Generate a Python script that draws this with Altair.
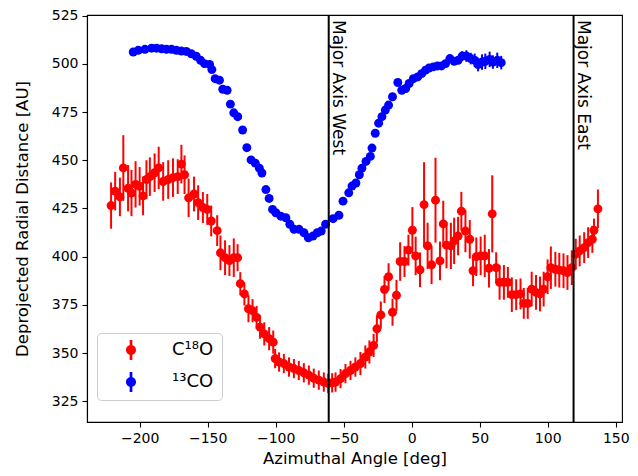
import altair as alt
import pandas as pd

# ---------------- data ----------------
red_x = [-221, -218, -214.5, -212, -208.5, -206, -203, -200, -197.5, -195, -192.5, -189, -186,
         -182.7, -179, -175.5, -172, -169.3, -167, -164, -160, -157, -153.5, -150.3, -147.4,
         -143, -140.6, -137.2, -134, -130.8, -128, -126, -123, -120, -117, -114, -111.5,
         -108.4, -104.8, -101.8, -100.4, -97.5, -94, -90.2, -86.6, -83, -79.3, -75.6, -72,
         -68.3, -64.6, -61.4, -58.5, -56, -52.3, -48.7, -45, -41.4, -37.7, -34.1, -31.1, -28,
         -25.6, -22.7, -20, -17, -14.1, -11.2, -8.5, -5.3, -2.4, 0.5, 2.9, 6.1, 9.1, 11.7,
         14.6, 17.5, 20.8, 23.2, 25.6, 28.8, 31.2, 34.1, 36.5, 39.5, 42.7, 45.1, 47.5, 50.7,
         53.7, 56.8, 59.2, 62.1, 64.6, 67.8, 70.7, 73.6, 76.8, 80, 82.4, 85.3, 88.2, 91.4,
         94.3, 97, 99.9, 102.3, 105.6, 108.5, 111.6, 114.5, 117.7, 120.6, 123.5, 126.8,
         129.7, 132.8, 134, 136.9]
red_y = [426.5, 434, 431, 446, 435.5, 433, 437.5, 436.5, 431.5, 440, 441.5, 443.5, 446,
         439, 440, 441, 441.5, 448, 442.5, 430.5, 432.5, 428, 425.5, 424.5, 418.5,
         413.5, 402, 399.5, 398, 399.5, 399.5, 386, 380.7, 373, 372, 368.5, 363.5,
         360, 357.5, 355.7, 347.2, 345.4, 344.6, 342.8, 342, 341, 339.8, 338.6, 337,
         336, 335, 334.3, 334.6, 335, 336.8, 339.4, 341, 342.8, 344.6, 348, 350.6, 354,
         362.6, 369.8, 383, 389.6, 371.2, 380, 397.5, 397.5, 403.4, 413.7, 400.4, 393.2, 427, 405.6,
         395.8, 429.3, 397.8, 417, 406, 405.6, 408.2, 410.7, 423.6, 413.3, 409, 392.7, 400, 400.4,
         400.4, 394, 422.2, 394.3, 386.7, 386.7, 386.7, 380.3, 380.3, 380.7, 375.8, 375.8, 383.2, 381.5,
         380.7, 383.2, 389.6, 394.3, 393.5, 393, 392.7, 391.8, 394.3, 401.3, 403, 404.7,
         407.3, 409, 413.7, 424.8]
red_err = [12, 10, 10, 17, 12, 12, 12, 10, 10, 10, 10, 10, 11,
           10, 10, 10, 9, 10, 10, 10, 9, 9, 8, 8, 8,
           8, 9, 9, 8, 10, 7, 6, 6, 7, 6, 6, 6,
           6, 6, 6, 5, 5, 5, 5, 5, 5, 5, 5, 5,
           5, 5, 5, 5, 5, 5, 5, 5, 5, 6, 6, 6, 6,
           7, 7, 7, 7, 7, 8, 10, 8, 8, 12, 10, 9, 22, 12,
           10, 22, 10, 12, 12, 12, 12, 10, 10, 11, 10, 8, 10, 10,
           11, 10, 20, 8, 9, 9, 8, 9, 8, 8, 8, 8, 9, 9,
           9, 9, 9, 11, 9, 9, 9, 9, 9, 8, 8, 8,
           8, 7, 6, 10]

blue_x = [-204.7, -201, -196.1, -191.2, -187.6, -183.9, -180.3, -176.6, -173, -169.3, -165.7,
          -162, -158.4, -155.2, -152.3, -148.6, -146.9, -144.5, -141.3, -138.9, -135.7, -133.3,
          -130.8, -127.9, -124.3, -121.2, -118.1, -115, -112, -110.1, -107.2, -104.8, -102.3,
          -99.9, -96.2, -92.5, -89.6, -86.5, -82.8, -79.2, -76, -72.6, -69.4, -66.5, -63.3,
          -57.8, -53.5, -50.5, -46.3, -43.9, -41, -38.5, -36.6, -33.6, -30.4, -29.2, -26.8,
          -24.3, -21.9, -19.4, -17, -14.1, -10.2, -7.3, -4.4, -1.9, 1.2, 4.4, 7.3, 10.2, 12.7,
          15.9, 19, 21.9, 24.9, 28.1, 31.2, 34.1, 37.1, 40.2, 43.4, 46.3, 48.8, 51.7, 54.1,
          57.3, 59.7, 62.9, 65.8]
blue_y = [506.1, 507, 507.5, 508.1, 508.1, 507.8, 507.5, 507.5, 507, 506.6, 506.4,
          505.2, 503.9, 501.8, 500.1, 499.7, 497, 492.3, 491.5, 486.8, 486.3, 479.1,
          474.6, 472.6, 465.7, 456.5, 450.2, 448.5, 445.9, 443.4, 434.8, 430.2, 424.5,
          422.8, 421, 420.2, 416.8, 414.2, 414.2, 412.4, 409.8, 410.7, 412.4, 413.3, 416.8,
          419.7, 421.5, 428.8, 433.1, 436.6, 438.2, 442.5, 445.9, 449.4, 452, 456.3, 464,
          469.2, 472.6, 476, 478.6, 482.9, 490.3, 486.3, 487.2, 489.8, 492.3, 493.2, 494.9, 496.7, 497.8,
          498.4, 498.9, 498.9, 500.1, 502.7, 501.3, 501.8, 504, 504, 502.7, 501.8, 499.6, 500.9, 501.3,
          502.3, 500.9, 501.8, 500.6]
blue_err = [1.5] * 78 + [2.5, 3, 3, 3.5, 3.5, 4, 4, 4, 3.5, 4, 3.5]

series_names = ["C¹⁸O", "¹³CO"]
series_colors = ["#ff0000", "#0000ff"]

axis_lines_x = [-61, 119]
axis_lines_text = ["Major Axis West", "Major Axis East"]

x_ticks = [-200, -150, -100, -50, 0, 50, 100, 150]
y_ticks = [325, 350, 375, 400, 425, 450, 475, 500, 525]

# ---------------- tables ----------------
n_blue = len(blue_x)
blue_err = (blue_err + [2] * n_blue)[:n_blue]

red = pd.DataFrame({"x": red_x, "y": red_y, "err": red_err, "s": series_names[0]})
blue = pd.DataFrame({"x": blue_x, "y": blue_y, "err": blue_err, "s": series_names[1]})
df = pd.concat([red, blue], ignore_index=True)
df["lo"] = df["y"] - df["err"]
df["hi"] = df["y"] + df["err"]

lines = pd.DataFrame({"x": axis_lines_x, "label": axis_lines_text})

FONT = "DejaVu Sans"
W, H = 535, 407

xs = alt.Scale(domain=[-238.7, 154.6], nice=False, zero=False)
ys = alt.Scale(domain=[314.3, 525.3], nice=False, zero=False)
cs = alt.Scale(domain=series_names, range=series_colors)

x_axis = alt.Axis(values=x_ticks, title="Azimuthal Angle [deg]", grid=False,
                  labelFontSize=14, titleFontSize=16.5, tickSize=5, labelPadding=4,
                  titlePadding=5, labelFlush=False)
y_axis = alt.Axis(values=y_ticks, title="Deprojected Radial Distance [AU]", grid=False,
                  labelFontSize=14, titleFontSize=16.5, tickSize=5, labelPadding=4,
                  titlePadding=21, labelFlush=False)

legend_symbol = ("M-1,0 A1,1 0 1,1 1,0 A1,1 0 1,1 -1,0 Z "
                 "M-0.27,-2 L0.27,-2 L0.27,2 L-0.27,2 Z")

legend = alt.Legend(
    title=None, orient="none", legendX=10, legendY=318,
    symbolType=legend_symbol, symbolSize=100, symbolOffset=17,
    labelFontSize=18, labelOffset=32, rowPadding=12, padding=8,
    labelExpr="datum.label + '\u00a0\u00a0'",
    strokeColor="#cccccc", cornerRadius=4, fillColor="rgba(255,255,255,0.8)",
    labelFont=FONT, symbolStrokeWidth=0, symbolOpacity=1,
)

base = alt.Chart(df)

errbars = base.mark_rule(strokeWidth=2).encode(
    x=alt.X("x:Q", scale=xs, axis=x_axis),
    y=alt.Y("lo:Q", scale=ys, axis=y_axis),
    y2="hi:Q",
    color=alt.Color("s:N", scale=cs, legend=legend),
)

points = base.mark_circle(size=80, opacity=1).encode(
    x=alt.X("x:Q", scale=xs),
    y=alt.Y("y:Q", scale=ys),
    color=alt.Color("s:N", scale=cs, legend=legend),
)

rules = alt.Chart(lines).mark_rule(color="black", strokeWidth=2).encode(
    x=alt.X("x:Q", scale=xs)
)

texts = alt.Chart(lines).mark_text(
    angle=90, align="left", baseline="bottom", dx=3, fontSize=17, font=FONT, color="black"
).encode(
    x=alt.X("x:Q", scale=xs),
    y=alt.value(2),
    text="label:N",
)

chart = alt.layer(
    errbars.transform_filter(alt.datum.s == series_names[0]),
    points.transform_filter(alt.datum.s == series_names[0]),
    errbars.transform_filter(alt.datum.s == series_names[1]),
    points.transform_filter(alt.datum.s == series_names[1]),
    rules, texts,
).properties(
    width=W, height=H,
    autosize=alt.AutoSizeParams(type="none"),
    padding={"left": 79, "top": 7, "right": 8, "bottom": 46},
).configure(
    font=FONT,
).configure_view(
    stroke="black", strokeWidth=1.1,
).configure_axis(
    labelFont=FONT, titleFont=FONT, labelColor="black", titleColor="black",
    tickColor="black", domainColor="black", tickWidth=1.1, domainWidth=1.1,
    titleFontWeight="normal",
)

chart.save("out.html", embed_options={"renderer": "svg", "actions": False})
